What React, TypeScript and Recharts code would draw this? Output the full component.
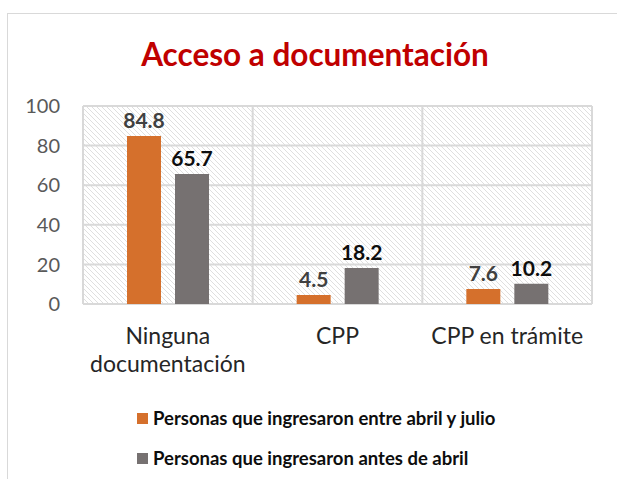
import React from "react";
import { BarChart, Bar, XAxis, YAxis, CartesianGrid, LabelList, Legend } from "recharts";

const categories = ["Ninguna\ndocumentación", "CPP", "CPP en trámite"];
const entreAbrilJulio = [84.8, 4.5, 7.6];
const antesDeAbril = [65.7, 18.2, 10.2];
const yTicks = [0, 20, 40, 60, 80, 100];
const seriesNames = [
  "Personas que ingresaron entre abril y julio",
  "Personas que ingresaron antes de abril",
];
const title = "Acceso a documentación";

const data = categories.map((c, i) => ({
  category: c,
  a: entreAbrilJulio[i],
  b: antesDeAbril[i],
}));

const FONT = "Lato, 'Open Sans', sans-serif";

const XTick = (props: any) => {
  const { x, y, payload } = props;
  const lines = String(payload.value).split("\n");
  return (
    <text x={x} y={y} textAnchor="middle" fill="#262626" fontFamily={FONT} fontSize={23}>
      {lines.map((l, i) => (
        <tspan key={i} x={x} dy={i === 0 ? 40 : 28}>
          {l}
        </tspan>
      ))}
    </text>
  );
};

const LegendContent = (props: any) => {
  const payload = [...(props.payload || [])].sort(
    (p: any, q: any) => seriesNames.indexOf(p.value) - seriesNames.indexOf(q.value)
  );
  return (
    <div style={{ width: 617, height: 100, position: "relative", fontFamily: FONT }}>
      {payload.map((p: any, i: number) => (
        <div
          key={i}
          style={{
            position: "absolute",
            left: 137,
            top: 28 + i * 40,
            display: "flex",
            alignItems: "center",
            whiteSpace: "nowrap",
            height: 22,
          }}
        >
          <span style={{ display: "inline-block", width: 11, height: 11, background: p.color, marginRight: 5 }} />
          <span style={{ fontSize: 18.5, fontWeight: 700, color: "#0d0d0d", lineHeight: "22px" }}>{p.value}</span>
        </div>
      ))}
    </div>
  );
};

const gridVerticals = ({ offset }: any) =>
  categories.concat([""]).map((_, i) => offset.left + (i * offset.width) / categories.length);

export default function App() {
  return (
    <div style={{ position: "absolute", left: 0, top: 0, width: 617, height: 479, background: "#fff" }}>
      <div
        style={{
          position: "absolute",
          left: 7,
          top: 13,
          width: 610,
          height: 466,
          borderTop: "1.5px solid #d9d9d9",
          borderLeft: "1.5px solid #d9d9d9",
          boxSizing: "border-box",
        }}
      />
      <div
        style={{
          position: "absolute",
          left: 0,
          width: 630,
          top: 34,
          textAlign: "center",
          fontFamily: FONT,
          fontWeight: 700,
          fontSize: 31.5,
          color: "#C00000",
          lineHeight: "40px",
          whiteSpace: "nowrap",
        }}
      >
        {title}
      </div>
      <div style={{ position: "absolute", left: 0, top: 0 }}>
        <BarChart
          width={617}
          height={479}
          data={data}
          margin={{ top: 106, right: 25, left: 0, bottom: 0 }}
          barSize={34}
          barGap={14}
        >
          <defs>
            <pattern id="hatch" patternUnits="userSpaceOnUse" width="5" height="5">
              <rect width="5" height="5" fill="#ffffff" />
              <path d="M-1,-1 L6,6 M-1,4 L1,6 M4,-1 L6,1" stroke="#dfdfdf" strokeWidth="1" />
            </pattern>
          </defs>
          <CartesianGrid
            fill="url(#hatch)"
            fillOpacity={1}
            stroke="#d9d9d9"
            strokeWidth={2}
            verticalCoordinatesGenerator={gridVerticals}
          />
          <XAxis
            dataKey="category"
            axisLine={false}
            tickLine={false}
            tickSize={0}
            tickMargin={0}
            height={75}
            interval={0}
            tick={<XTick />}
          />
          <YAxis
            domain={[0, 100]}
            ticks={yTicks}
            width={83}
            axisLine={false}
            tickLine={false}
            tickSize={0}
            tickMargin={23}
            tick={{ fill: "#595959", fontSize: 20, fontFamily: FONT }}
          />
          <Legend verticalAlign="bottom" wrapperStyle={{ left: 0, width: 617 }} content={<LegendContent />} />
          <Bar dataKey="a" name={seriesNames[0]} fill="#D5702C" isAnimationActive={false}>
            <LabelList
              dataKey="a"
              position="top"
              offset={8}
              fill="#404040"
              fontSize={21}
              fontWeight={700}
              fontFamily={FONT}
            />
          </Bar>
          <Bar dataKey="b" name={seriesNames[1]} fill="#767171" isAnimationActive={false}>
            <LabelList
              dataKey="b"
              position="top"
              offset={8}
              fill="#0d0d0d"
              fontSize={21}
              fontWeight={700}
              fontFamily={FONT}
            />
          </Bar>
        </BarChart>
      </div>
    </div>
  );
}
